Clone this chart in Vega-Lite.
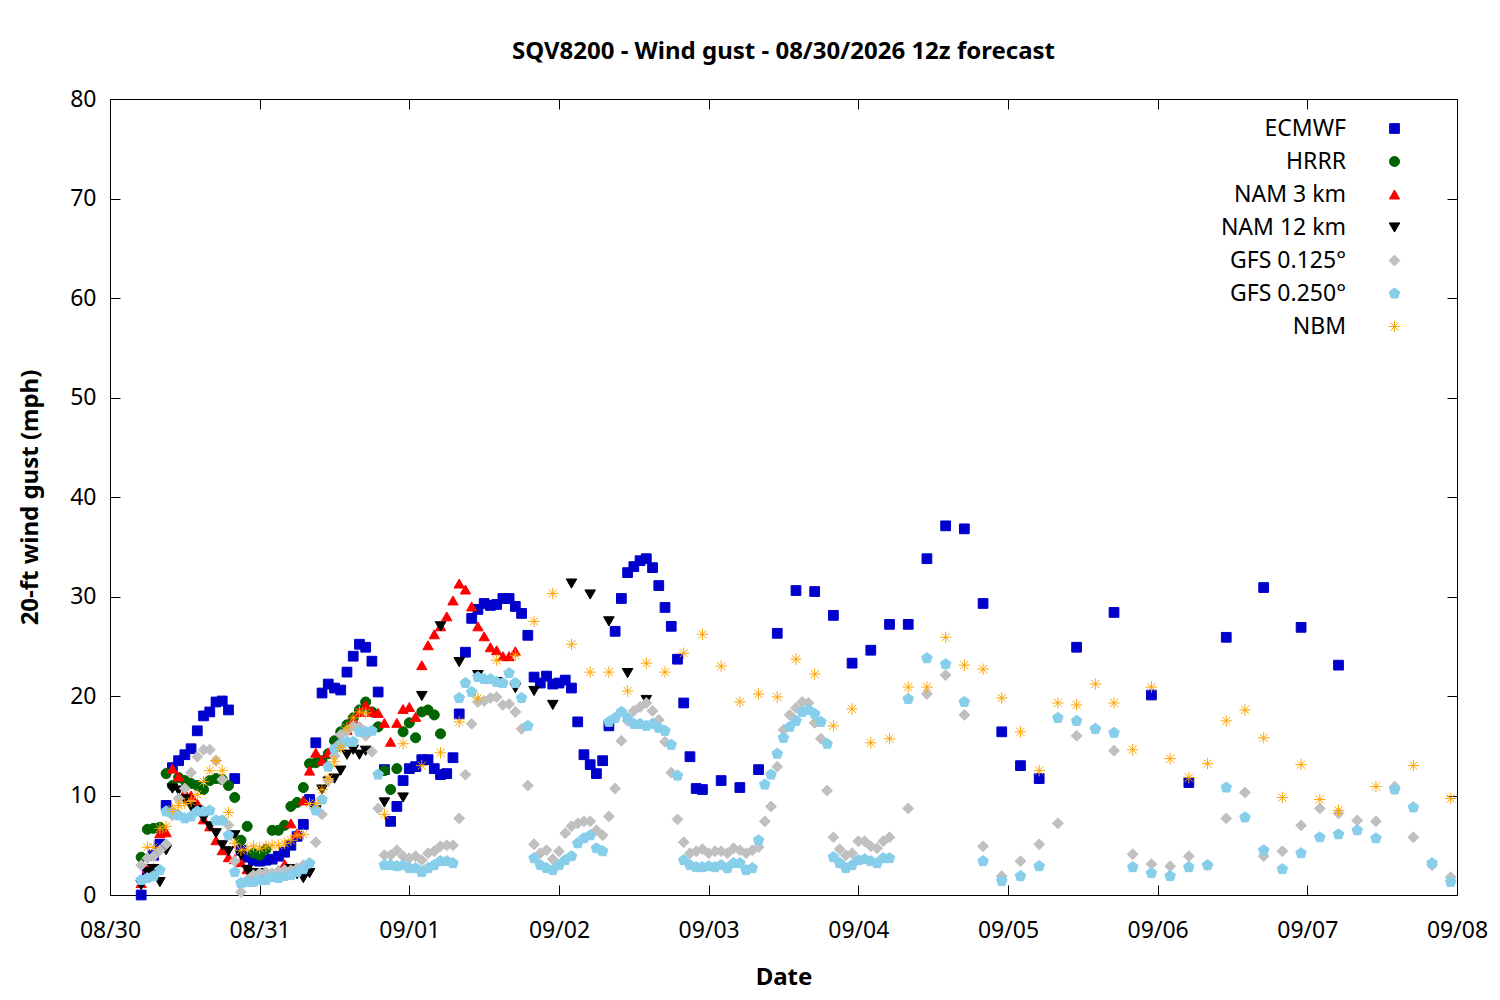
{
  "$schema": "https://vega.github.io/schema/vega-lite/v6.json",
  "width": 1347,
  "height": 796,
  "autosize": {"type": "none"},
  "padding": {"left": 110, "top": 99, "right": 43, "bottom": 105},
  "background": "white",
  "title": {
    "text": "SQV8200 - Wind gust - 08/30/2026 12z forecast",
    "fontSize": 24,
    "fontWeight": "bold",
    "color": "black",
    "anchor": "middle",
    "offset": 24
  },
  "datasets": {
    "gust": [
      {"m":"ECMWF","h":5,"v":0},{"m":"ECMWF","h":6,"v":2.5},{"m":"ECMWF","h":7,"v":4},{"m":"ECMWF","h":8,"v":5.1},{"m":"ECMWF","h":9,"v":9},{"m":"ECMWF","h":10,"v":12.8},{"m":"ECMWF","h":11,"v":13.5},{"m":"ECMWF","h":12,"v":14.1},{"m":"ECMWF","h":13,"v":14.7},{"m":"ECMWF","h":14,"v":16.5},{"m":"ECMWF","h":15,"v":18},{"m":"ECMWF","h":16,"v":18.4},{"m":"ECMWF","h":17,"v":19.4},{"m":"ECMWF","h":18,"v":19.5},{"m":"ECMWF","h":19,"v":18.6},{"m":"ECMWF","h":20,"v":11.7},{"m":"ECMWF","h":21,"v":4.5},{"m":"ECMWF","h":22,"v":3.8},{"m":"ECMWF","h":23,"v":3.5},{"m":"ECMWF","h":24,"v":3.4},{"m":"ECMWF","h":25,"v":3.5},{"m":"ECMWF","h":26,"v":3.6},{"m":"ECMWF","h":27,"v":3.9},{"m":"ECMWF","h":28,"v":4.3},{"m":"ECMWF","h":29,"v":5},{"m":"ECMWF","h":30,"v":5.9},{"m":"ECMWF","h":31,"v":7.1},{"m":"ECMWF","h":32,"v":9.6},{"m":"ECMWF","h":33,"v":15.3},{"m":"ECMWF","h":34,"v":20.3},{"m":"ECMWF","h":35,"v":21.2},{"m":"ECMWF","h":36,"v":20.8},{"m":"ECMWF","h":37,"v":20.6},{"m":"ECMWF","h":38,"v":22.4},{"m":"ECMWF","h":39,"v":24},{"m":"ECMWF","h":40,"v":25.2},{"m":"ECMWF","h":41,"v":24.9},{"m":"ECMWF","h":42,"v":23.5},{"m":"ECMWF","h":43,"v":20.4},{"m":"ECMWF","h":44,"v":12.6},{"m":"ECMWF","h":45,"v":7.4},{"m":"ECMWF","h":46,"v":8.9},{"m":"ECMWF","h":47,"v":11.5},{"m":"ECMWF","h":48,"v":12.7},{"m":"ECMWF","h":49,"v":12.9},{"m":"ECMWF","h":50,"v":13.6},{"m":"ECMWF","h":51,"v":13.6},{"m":"ECMWF","h":52,"v":12.7},{"m":"ECMWF","h":53,"v":12.1},{"m":"ECMWF","h":54,"v":12.2},{"m":"ECMWF","h":55,"v":13.8},{"m":"ECMWF","h":56,"v":18.2},{"m":"ECMWF","h":57,"v":24.4},{"m":"ECMWF","h":58,"v":27.8},{"m":"ECMWF","h":59,"v":28.7},{"m":"ECMWF","h":60,"v":29.3},{"m":"ECMWF","h":61,"v":29.1},{"m":"ECMWF","h":62,"v":29.2},{"m":"ECMWF","h":63,"v":29.8},{"m":"ECMWF","h":64,"v":29.8},{"m":"ECMWF","h":65,"v":29},{"m":"ECMWF","h":66,"v":28.3},{"m":"ECMWF","h":67,"v":26.1},{"m":"ECMWF","h":68,"v":21.9},{"m":"ECMWF","h":69,"v":21.3},{"m":"ECMWF","h":70,"v":22},{"m":"ECMWF","h":71,"v":21.2},{"m":"ECMWF","h":72,"v":21.3},{"m":"ECMWF","h":73,"v":21.6},{"m":"ECMWF","h":74,"v":20.8},{"m":"ECMWF","h":75,"v":17.4},{"m":"ECMWF","h":76,"v":14.1},{"m":"ECMWF","h":77,"v":13.1},{"m":"ECMWF","h":78,"v":12.2},{"m":"ECMWF","h":79,"v":13.5},{"m":"ECMWF","h":80,"v":17},{"m":"ECMWF","h":81,"v":26.5},{"m":"ECMWF","h":82,"v":29.8},{"m":"ECMWF","h":83,"v":32.4},{"m":"ECMWF","h":84,"v":33},{"m":"ECMWF","h":85,"v":33.6},{"m":"ECMWF","h":86,"v":33.8},{"m":"ECMWF","h":87,"v":32.9},{"m":"ECMWF","h":88,"v":31.1},{"m":"ECMWF","h":89,"v":28.9},{"m":"ECMWF","h":90,"v":27},{"m":"ECMWF","h":91,"v":23.7},{"m":"ECMWF","h":92,"v":19.3},{"m":"ECMWF","h":93,"v":13.9},{"m":"ECMWF","h":94,"v":10.7},{"m":"ECMWF","h":95,"v":10.6},{"m":"ECMWF","h":98,"v":11.5},{"m":"ECMWF","h":101,"v":10.8},{"m":"ECMWF","h":104,"v":12.6},{"m":"ECMWF","h":107,"v":26.3},{"m":"ECMWF","h":110,"v":30.6},{"m":"ECMWF","h":113,"v":30.5},{"m":"ECMWF","h":116,"v":28.1},{"m":"ECMWF","h":119,"v":23.3},{"m":"ECMWF","h":122,"v":24.6},{"m":"ECMWF","h":125,"v":27.2},{"m":"ECMWF","h":128,"v":27.2},{"m":"ECMWF","h":131,"v":33.8},{"m":"ECMWF","h":134,"v":37.1},{"m":"ECMWF","h":137,"v":36.8},{"m":"ECMWF","h":140,"v":29.3},{"m":"ECMWF","h":143,"v":16.4},{"m":"ECMWF","h":146,"v":13},{"m":"ECMWF","h":149,"v":11.7},{"m":"ECMWF","h":155,"v":24.9},{"m":"ECMWF","h":161,"v":28.4},{"m":"ECMWF","h":167,"v":20.1},{"m":"ECMWF","h":173,"v":11.3},{"m":"ECMWF","h":179,"v":25.9},{"m":"ECMWF","h":185,"v":30.9},{"m":"ECMWF","h":191,"v":26.9},{"m":"ECMWF","h":197,"v":23.1},
      {"m":"HRRR","h":5,"v":3.8},{"m":"HRRR","h":6,"v":6.6},{"m":"HRRR","h":7,"v":6.7},{"m":"HRRR","h":8,"v":6.8},{"m":"HRRR","h":9,"v":12.2},{"m":"HRRR","h":10,"v":11},{"m":"HRRR","h":11,"v":11.8},{"m":"HRRR","h":12,"v":11.5},{"m":"HRRR","h":13,"v":11.2},{"m":"HRRR","h":14,"v":11},{"m":"HRRR","h":15,"v":10.6},{"m":"HRRR","h":16,"v":11.5},{"m":"HRRR","h":17,"v":11.7},{"m":"HRRR","h":18,"v":11.6},{"m":"HRRR","h":19,"v":11},{"m":"HRRR","h":20,"v":9.8},{"m":"HRRR","h":21,"v":5.5},{"m":"HRRR","h":22,"v":6.9},{"m":"HRRR","h":23,"v":4.2},{"m":"HRRR","h":24,"v":4},{"m":"HRRR","h":25,"v":4.6},{"m":"HRRR","h":26,"v":6.5},{"m":"HRRR","h":27,"v":6.5},{"m":"HRRR","h":28,"v":7},{"m":"HRRR","h":29,"v":8.9},{"m":"HRRR","h":30,"v":9.3},{"m":"HRRR","h":31,"v":10.8},{"m":"HRRR","h":32,"v":13.2},{"m":"HRRR","h":33,"v":13.3},{"m":"HRRR","h":34,"v":13.5},{"m":"HRRR","h":35,"v":14.2},{"m":"HRRR","h":36,"v":15.5},{"m":"HRRR","h":37,"v":16.4},{"m":"HRRR","h":38,"v":17.1},{"m":"HRRR","h":39,"v":17.8},{"m":"HRRR","h":40,"v":18.6},{"m":"HRRR","h":41,"v":19.4},{"m":"HRRR","h":42,"v":18.4},{"m":"HRRR","h":43,"v":16.9},{"m":"HRRR","h":44,"v":12.5},{"m":"HRRR","h":45,"v":10.6},{"m":"HRRR","h":46,"v":12.7},{"m":"HRRR","h":47,"v":16.4},{"m":"HRRR","h":48,"v":17.3},{"m":"HRRR","h":49,"v":15.8},{"m":"HRRR","h":50,"v":18.4},{"m":"HRRR","h":51,"v":18.6},{"m":"HRRR","h":52,"v":18.1},{"m":"HRRR","h":53,"v":16.2},
      {"m":"NAM 3 km","h":5,"v":1.2},{"m":"NAM 3 km","h":6,"v":2.7},{"m":"NAM 3 km","h":7,"v":2.7},{"m":"NAM 3 km","h":8,"v":6.2},{"m":"NAM 3 km","h":9,"v":6.3},{"m":"NAM 3 km","h":10,"v":12.7},{"m":"NAM 3 km","h":11,"v":11.9},{"m":"NAM 3 km","h":12,"v":10.3},{"m":"NAM 3 km","h":13,"v":10},{"m":"NAM 3 km","h":14,"v":9.2},{"m":"NAM 3 km","h":15,"v":7.6},{"m":"NAM 3 km","h":16,"v":6.9},{"m":"NAM 3 km","h":17,"v":5.5},{"m":"NAM 3 km","h":18,"v":4.5},{"m":"NAM 3 km","h":19,"v":3.8},{"m":"NAM 3 km","h":20,"v":3.6},{"m":"NAM 3 km","h":21,"v":3.3},{"m":"NAM 3 km","h":22,"v":2.6},{"m":"NAM 3 km","h":23,"v":2.3},{"m":"NAM 3 km","h":24,"v":1.9},{"m":"NAM 3 km","h":25,"v":1.8},{"m":"NAM 3 km","h":26,"v":2.2},{"m":"NAM 3 km","h":27,"v":2.5},{"m":"NAM 3 km","h":28,"v":3.1},{"m":"NAM 3 km","h":29,"v":7.2},{"m":"NAM 3 km","h":30,"v":6.2},{"m":"NAM 3 km","h":31,"v":9.5},{"m":"NAM 3 km","h":32,"v":12.5},{"m":"NAM 3 km","h":33,"v":14.3},{"m":"NAM 3 km","h":34,"v":13.5},{"m":"NAM 3 km","h":35,"v":14.3},{"m":"NAM 3 km","h":36,"v":14.9},{"m":"NAM 3 km","h":37,"v":15.6},{"m":"NAM 3 km","h":38,"v":16.6},{"m":"NAM 3 km","h":39,"v":17.6},{"m":"NAM 3 km","h":40,"v":18.4},{"m":"NAM 3 km","h":41,"v":19.1},{"m":"NAM 3 km","h":42,"v":18.4},{"m":"NAM 3 km","h":43,"v":18.3},{"m":"NAM 3 km","h":44,"v":17.3},{"m":"NAM 3 km","h":45,"v":15.4},{"m":"NAM 3 km","h":46,"v":17.3},{"m":"NAM 3 km","h":47,"v":18.7},{"m":"NAM 3 km","h":48,"v":18.9},{"m":"NAM 3 km","h":49,"v":17.9},{"m":"NAM 3 km","h":50,"v":23.1},{"m":"NAM 3 km","h":51,"v":25.1},{"m":"NAM 3 km","h":52,"v":26.2},{"m":"NAM 3 km","h":53,"v":27},{"m":"NAM 3 km","h":54,"v":28},{"m":"NAM 3 km","h":55,"v":29.6},{"m":"NAM 3 km","h":56,"v":31.3},{"m":"NAM 3 km","h":57,"v":30.7},{"m":"NAM 3 km","h":58,"v":29},{"m":"NAM 3 km","h":59,"v":27},{"m":"NAM 3 km","h":60,"v":26},{"m":"NAM 3 km","h":61,"v":24.9},{"m":"NAM 3 km","h":62,"v":24.6},{"m":"NAM 3 km","h":63,"v":24},{"m":"NAM 3 km","h":64,"v":24},{"m":"NAM 3 km","h":65,"v":24.5},
      {"m":"NAM 12 km","h":5,"v":1},{"m":"NAM 12 km","h":6,"v":2.3},{"m":"NAM 12 km","h":7,"v":2.6},{"m":"NAM 12 km","h":8,"v":1.3},{"m":"NAM 12 km","h":9,"v":4.5},{"m":"NAM 12 km","h":10,"v":10.7},{"m":"NAM 12 km","h":11,"v":10.5},{"m":"NAM 12 km","h":12,"v":9.6},{"m":"NAM 12 km","h":13,"v":8.9},{"m":"NAM 12 km","h":14,"v":8.5},{"m":"NAM 12 km","h":15,"v":7.7},{"m":"NAM 12 km","h":16,"v":6.9},{"m":"NAM 12 km","h":17,"v":6.2},{"m":"NAM 12 km","h":18,"v":5},{"m":"NAM 12 km","h":19,"v":4.4},{"m":"NAM 12 km","h":20,"v":6},{"m":"NAM 12 km","h":21,"v":4},{"m":"NAM 12 km","h":22,"v":2.5},{"m":"NAM 12 km","h":23,"v":2.2},{"m":"NAM 12 km","h":24,"v":2.2},{"m":"NAM 12 km","h":25,"v":1.9},{"m":"NAM 12 km","h":26,"v":1.8},{"m":"NAM 12 km","h":27,"v":2},{"m":"NAM 12 km","h":28,"v":2.3},{"m":"NAM 12 km","h":29,"v":2.6},{"m":"NAM 12 km","h":30,"v":2.1},{"m":"NAM 12 km","h":31,"v":1.7},{"m":"NAM 12 km","h":32,"v":2.2},{"m":"NAM 12 km","h":33,"v":8.5},{"m":"NAM 12 km","h":34,"v":10.6},{"m":"NAM 12 km","h":35,"v":11.4},{"m":"NAM 12 km","h":36,"v":11.7},{"m":"NAM 12 km","h":37,"v":12.5},{"m":"NAM 12 km","h":38,"v":14.1},{"m":"NAM 12 km","h":39,"v":14.6},{"m":"NAM 12 km","h":40,"v":14.1},{"m":"NAM 12 km","h":41,"v":14.5},{"m":"NAM 12 km","h":44,"v":9.3},{"m":"NAM 12 km","h":47,"v":9.8},{"m":"NAM 12 km","h":50,"v":20},{"m":"NAM 12 km","h":53,"v":27},{"m":"NAM 12 km","h":56,"v":23.4},{"m":"NAM 12 km","h":59,"v":22.1},{"m":"NAM 12 km","h":62,"v":21.4},{"m":"NAM 12 km","h":65,"v":20.8},{"m":"NAM 12 km","h":68,"v":20.5},{"m":"NAM 12 km","h":71,"v":19.1},{"m":"NAM 12 km","h":74,"v":31.3},{"m":"NAM 12 km","h":77,"v":30.2},{"m":"NAM 12 km","h":80,"v":27.5},{"m":"NAM 12 km","h":83,"v":22.3},{"m":"NAM 12 km","h":86,"v":19.6},
      {"m":"GFS 0.125°","h":5,"v":3},{"m":"GFS 0.125°","h":6,"v":3.7},{"m":"GFS 0.125°","h":7,"v":3.9},{"m":"GFS 0.125°","h":8,"v":4.5},{"m":"GFS 0.125°","h":9,"v":5.1},{"m":"GFS 0.125°","h":10,"v":8},{"m":"GFS 0.125°","h":11,"v":9.7},{"m":"GFS 0.125°","h":12,"v":10.7},{"m":"GFS 0.125°","h":13,"v":12.3},{"m":"GFS 0.125°","h":14,"v":13.9},{"m":"GFS 0.125°","h":15,"v":14.6},{"m":"GFS 0.125°","h":16,"v":14.6},{"m":"GFS 0.125°","h":17,"v":13.5},{"m":"GFS 0.125°","h":18,"v":11.6},{"m":"GFS 0.125°","h":19,"v":7},{"m":"GFS 0.125°","h":20,"v":3.4},{"m":"GFS 0.125°","h":21,"v":0.3},{"m":"GFS 0.125°","h":22,"v":1.5},{"m":"GFS 0.125°","h":23,"v":2},{"m":"GFS 0.125°","h":24,"v":2.2},{"m":"GFS 0.125°","h":25,"v":2.3},{"m":"GFS 0.125°","h":26,"v":2.2},{"m":"GFS 0.125°","h":27,"v":2.4},{"m":"GFS 0.125°","h":28,"v":2.5},{"m":"GFS 0.125°","h":29,"v":2.5},{"m":"GFS 0.125°","h":30,"v":2.7},{"m":"GFS 0.125°","h":31,"v":3},{"m":"GFS 0.125°","h":32,"v":3.2},{"m":"GFS 0.125°","h":33,"v":5.3},{"m":"GFS 0.125°","h":34,"v":8.1},{"m":"GFS 0.125°","h":35,"v":11.5},{"m":"GFS 0.125°","h":36,"v":14},{"m":"GFS 0.125°","h":37,"v":16.1},{"m":"GFS 0.125°","h":38,"v":16.5},{"m":"GFS 0.125°","h":39,"v":17},{"m":"GFS 0.125°","h":40,"v":16.9},{"m":"GFS 0.125°","h":41,"v":16},{"m":"GFS 0.125°","h":42,"v":14.4},{"m":"GFS 0.125°","h":43,"v":8.7},{"m":"GFS 0.125°","h":44,"v":4},{"m":"GFS 0.125°","h":45,"v":4},{"m":"GFS 0.125°","h":46,"v":4.5},{"m":"GFS 0.125°","h":47,"v":3.9},{"m":"GFS 0.125°","h":48,"v":3.7},{"m":"GFS 0.125°","h":49,"v":3.9},{"m":"GFS 0.125°","h":50,"v":3.5},{"m":"GFS 0.125°","h":51,"v":4.2},{"m":"GFS 0.125°","h":52,"v":4.4},{"m":"GFS 0.125°","h":53,"v":4.9},{"m":"GFS 0.125°","h":54,"v":5},{"m":"GFS 0.125°","h":55,"v":5},{"m":"GFS 0.125°","h":56,"v":7.7},{"m":"GFS 0.125°","h":57,"v":12.1},{"m":"GFS 0.125°","h":58,"v":17.2},{"m":"GFS 0.125°","h":59,"v":19.4},{"m":"GFS 0.125°","h":60,"v":19.5},{"m":"GFS 0.125°","h":61,"v":19.8},{"m":"GFS 0.125°","h":62,"v":19.9},{"m":"GFS 0.125°","h":63,"v":19.1},{"m":"GFS 0.125°","h":64,"v":19.2},{"m":"GFS 0.125°","h":65,"v":18.4},{"m":"GFS 0.125°","h":66,"v":16.7},{"m":"GFS 0.125°","h":67,"v":11},{"m":"GFS 0.125°","h":68,"v":5.1},{"m":"GFS 0.125°","h":69,"v":4.2},{"m":"GFS 0.125°","h":70,"v":4.5},{"m":"GFS 0.125°","h":71,"v":3.6},{"m":"GFS 0.125°","h":72,"v":4.4},{"m":"GFS 0.125°","h":73,"v":6.2},{"m":"GFS 0.125°","h":74,"v":6.9},{"m":"GFS 0.125°","h":75,"v":7.2},{"m":"GFS 0.125°","h":76,"v":7.4},{"m":"GFS 0.125°","h":77,"v":7.4},{"m":"GFS 0.125°","h":78,"v":6.5},{"m":"GFS 0.125°","h":79,"v":6},{"m":"GFS 0.125°","h":80,"v":7.9},{"m":"GFS 0.125°","h":81,"v":10.7},{"m":"GFS 0.125°","h":82,"v":15.5},{"m":"GFS 0.125°","h":83,"v":17.5},{"m":"GFS 0.125°","h":84,"v":18.5},{"m":"GFS 0.125°","h":85,"v":18.9},{"m":"GFS 0.125°","h":86,"v":19.3},{"m":"GFS 0.125°","h":87,"v":18.5},{"m":"GFS 0.125°","h":88,"v":17.6},{"m":"GFS 0.125°","h":89,"v":15.4},{"m":"GFS 0.125°","h":90,"v":12.3},{"m":"GFS 0.125°","h":91,"v":7.6},{"m":"GFS 0.125°","h":92,"v":5.3},{"m":"GFS 0.125°","h":93,"v":4.2},{"m":"GFS 0.125°","h":94,"v":4.4},{"m":"GFS 0.125°","h":95,"v":4.6},{"m":"GFS 0.125°","h":96,"v":4.2},{"m":"GFS 0.125°","h":97,"v":4.4},{"m":"GFS 0.125°","h":98,"v":4.4},{"m":"GFS 0.125°","h":99,"v":4.2},{"m":"GFS 0.125°","h":100,"v":4.7},{"m":"GFS 0.125°","h":101,"v":4.5},{"m":"GFS 0.125°","h":102,"v":4.2},{"m":"GFS 0.125°","h":103,"v":4.5},{"m":"GFS 0.125°","h":104,"v":4.8},{"m":"GFS 0.125°","h":105,"v":7.4},{"m":"GFS 0.125°","h":106,"v":8.9},{"m":"GFS 0.125°","h":107,"v":12.9},{"m":"GFS 0.125°","h":108,"v":16.6},{"m":"GFS 0.125°","h":109,"v":18.1},{"m":"GFS 0.125°","h":110,"v":18.8},{"m":"GFS 0.125°","h":111,"v":19.4},{"m":"GFS 0.125°","h":112,"v":19.3},{"m":"GFS 0.125°","h":113,"v":17.3},{"m":"GFS 0.125°","h":114,"v":15.7},{"m":"GFS 0.125°","h":115,"v":10.5},{"m":"GFS 0.125°","h":116,"v":5.8},{"m":"GFS 0.125°","h":117,"v":4.6},{"m":"GFS 0.125°","h":118,"v":4},{"m":"GFS 0.125°","h":119,"v":4.2},{"m":"GFS 0.125°","h":120,"v":5.4},{"m":"GFS 0.125°","h":121,"v":5.4},{"m":"GFS 0.125°","h":122,"v":4.9},{"m":"GFS 0.125°","h":123,"v":4.7},{"m":"GFS 0.125°","h":124,"v":5.4},{"m":"GFS 0.125°","h":125,"v":5.8},{"m":"GFS 0.125°","h":128,"v":8.7},{"m":"GFS 0.125°","h":131,"v":20.2},{"m":"GFS 0.125°","h":134,"v":22.1},{"m":"GFS 0.125°","h":137,"v":18.1},{"m":"GFS 0.125°","h":140,"v":4.9},{"m":"GFS 0.125°","h":143,"v":1.9},{"m":"GFS 0.125°","h":146,"v":3.4},{"m":"GFS 0.125°","h":149,"v":5.1},{"m":"GFS 0.125°","h":152,"v":7.2},{"m":"GFS 0.125°","h":155,"v":16},{"m":"GFS 0.125°","h":158,"v":16.7},{"m":"GFS 0.125°","h":161,"v":14.5},{"m":"GFS 0.125°","h":164,"v":4.1},{"m":"GFS 0.125°","h":167,"v":3.1},{"m":"GFS 0.125°","h":170,"v":2.9},{"m":"GFS 0.125°","h":173,"v":3.9},{"m":"GFS 0.125°","h":176,"v":3},{"m":"GFS 0.125°","h":179,"v":7.7},{"m":"GFS 0.125°","h":182,"v":10.3},{"m":"GFS 0.125°","h":185,"v":3.9},{"m":"GFS 0.125°","h":188,"v":4.4},{"m":"GFS 0.125°","h":191,"v":7},{"m":"GFS 0.125°","h":194,"v":8.7},{"m":"GFS 0.125°","h":197,"v":8.2},{"m":"GFS 0.125°","h":200,"v":7.5},{"m":"GFS 0.125°","h":203,"v":7.4},{"m":"GFS 0.125°","h":206,"v":10.9},{"m":"GFS 0.125°","h":209,"v":5.8},{"m":"GFS 0.125°","h":212,"v":3},{"m":"GFS 0.125°","h":215,"v":1.8},
      {"m":"GFS 0.250°","h":5,"v":1.5},{"m":"GFS 0.250°","h":6,"v":1.7},{"m":"GFS 0.250°","h":7,"v":1.9},{"m":"GFS 0.250°","h":8,"v":2.5},{"m":"GFS 0.250°","h":9,"v":8.4},{"m":"GFS 0.250°","h":10,"v":8.3},{"m":"GFS 0.250°","h":11,"v":8},{"m":"GFS 0.250°","h":12,"v":7.7},{"m":"GFS 0.250°","h":13,"v":7.9},{"m":"GFS 0.250°","h":14,"v":8.4},{"m":"GFS 0.250°","h":15,"v":8.4},{"m":"GFS 0.250°","h":16,"v":8.5},{"m":"GFS 0.250°","h":17,"v":7.5},{"m":"GFS 0.250°","h":18,"v":7.5},{"m":"GFS 0.250°","h":19,"v":6},{"m":"GFS 0.250°","h":20,"v":2.3},{"m":"GFS 0.250°","h":21,"v":1.2},{"m":"GFS 0.250°","h":22,"v":1.3},{"m":"GFS 0.250°","h":23,"v":1.3},{"m":"GFS 0.250°","h":24,"v":1.5},{"m":"GFS 0.250°","h":25,"v":1.5},{"m":"GFS 0.250°","h":26,"v":1.8},{"m":"GFS 0.250°","h":27,"v":1.7},{"m":"GFS 0.250°","h":28,"v":1.9},{"m":"GFS 0.250°","h":29,"v":2},{"m":"GFS 0.250°","h":30,"v":2.3},{"m":"GFS 0.250°","h":31,"v":2.6},{"m":"GFS 0.250°","h":32,"v":3.2},{"m":"GFS 0.250°","h":33,"v":8.5},{"m":"GFS 0.250°","h":34,"v":9.6},{"m":"GFS 0.250°","h":35,"v":12.9},{"m":"GFS 0.250°","h":36,"v":14.7},{"m":"GFS 0.250°","h":37,"v":15.2},{"m":"GFS 0.250°","h":38,"v":15.4},{"m":"GFS 0.250°","h":39,"v":15.4},{"m":"GFS 0.250°","h":40,"v":16.4},{"m":"GFS 0.250°","h":41,"v":16.4},{"m":"GFS 0.250°","h":42,"v":16.5},{"m":"GFS 0.250°","h":43,"v":12.1},{"m":"GFS 0.250°","h":44,"v":3},{"m":"GFS 0.250°","h":45,"v":3},{"m":"GFS 0.250°","h":46,"v":2.9},{"m":"GFS 0.250°","h":47,"v":3},{"m":"GFS 0.250°","h":48,"v":2.7},{"m":"GFS 0.250°","h":49,"v":2.7},{"m":"GFS 0.250°","h":50,"v":2.3},{"m":"GFS 0.250°","h":51,"v":2.7},{"m":"GFS 0.250°","h":52,"v":3},{"m":"GFS 0.250°","h":53,"v":3.4},{"m":"GFS 0.250°","h":54,"v":3.4},{"m":"GFS 0.250°","h":55,"v":3.2},{"m":"GFS 0.250°","h":56,"v":19.8},{"m":"GFS 0.250°","h":57,"v":21.3},{"m":"GFS 0.250°","h":58,"v":20.4},{"m":"GFS 0.250°","h":59,"v":21.9},{"m":"GFS 0.250°","h":60,"v":21.7},{"m":"GFS 0.250°","h":61,"v":21.7},{"m":"GFS 0.250°","h":62,"v":21.4},{"m":"GFS 0.250°","h":63,"v":21.3},{"m":"GFS 0.250°","h":64,"v":22.3},{"m":"GFS 0.250°","h":65,"v":21.3},{"m":"GFS 0.250°","h":66,"v":19.8},{"m":"GFS 0.250°","h":67,"v":17},{"m":"GFS 0.250°","h":68,"v":3.7},{"m":"GFS 0.250°","h":69,"v":3},{"m":"GFS 0.250°","h":70,"v":2.7},{"m":"GFS 0.250°","h":71,"v":2.5},{"m":"GFS 0.250°","h":72,"v":3},{"m":"GFS 0.250°","h":73,"v":3.5},{"m":"GFS 0.250°","h":74,"v":3.9},{"m":"GFS 0.250°","h":75,"v":5.2},{"m":"GFS 0.250°","h":76,"v":5.7},{"m":"GFS 0.250°","h":77,"v":6},{"m":"GFS 0.250°","h":78,"v":4.7},{"m":"GFS 0.250°","h":79,"v":4.4},{"m":"GFS 0.250°","h":80,"v":17.4},{"m":"GFS 0.250°","h":81,"v":17.8},{"m":"GFS 0.250°","h":82,"v":18.4},{"m":"GFS 0.250°","h":83,"v":17.8},{"m":"GFS 0.250°","h":84,"v":17.2},{"m":"GFS 0.250°","h":85,"v":17.2},{"m":"GFS 0.250°","h":86,"v":17},{"m":"GFS 0.250°","h":87,"v":17.2},{"m":"GFS 0.250°","h":88,"v":16.8},{"m":"GFS 0.250°","h":89,"v":16.5},{"m":"GFS 0.250°","h":90,"v":15.1},{"m":"GFS 0.250°","h":91,"v":12},{"m":"GFS 0.250°","h":92,"v":3.5},{"m":"GFS 0.250°","h":93,"v":3},{"m":"GFS 0.250°","h":94,"v":2.8},{"m":"GFS 0.250°","h":95,"v":2.8},{"m":"GFS 0.250°","h":96,"v":2.9},{"m":"GFS 0.250°","h":97,"v":2.8},{"m":"GFS 0.250°","h":98,"v":3},{"m":"GFS 0.250°","h":99,"v":2.7},{"m":"GFS 0.250°","h":100,"v":3.2},{"m":"GFS 0.250°","h":101,"v":3.2},{"m":"GFS 0.250°","h":102,"v":2.5},{"m":"GFS 0.250°","h":103,"v":2.7},{"m":"GFS 0.250°","h":104,"v":5.5},{"m":"GFS 0.250°","h":105,"v":11.1},{"m":"GFS 0.250°","h":106,"v":12.1},{"m":"GFS 0.250°","h":107,"v":14.2},{"m":"GFS 0.250°","h":108,"v":15.8},{"m":"GFS 0.250°","h":109,"v":16.9},{"m":"GFS 0.250°","h":110,"v":17.5},{"m":"GFS 0.250°","h":111,"v":18.4},{"m":"GFS 0.250°","h":112,"v":18.6},{"m":"GFS 0.250°","h":113,"v":18.2},{"m":"GFS 0.250°","h":114,"v":17.4},{"m":"GFS 0.250°","h":115,"v":15.2},{"m":"GFS 0.250°","h":116,"v":3.8},{"m":"GFS 0.250°","h":117,"v":3.2},{"m":"GFS 0.250°","h":118,"v":2.7},{"m":"GFS 0.250°","h":119,"v":3},{"m":"GFS 0.250°","h":120,"v":3.5},{"m":"GFS 0.250°","h":121,"v":3.6},{"m":"GFS 0.250°","h":122,"v":3.4},{"m":"GFS 0.250°","h":123,"v":3.2},{"m":"GFS 0.250°","h":124,"v":3.7},{"m":"GFS 0.250°","h":125,"v":3.7},{"m":"GFS 0.250°","h":128,"v":19.7},{"m":"GFS 0.250°","h":131,"v":23.8},{"m":"GFS 0.250°","h":134,"v":23.2},{"m":"GFS 0.250°","h":137,"v":19.4},{"m":"GFS 0.250°","h":140,"v":3.4},{"m":"GFS 0.250°","h":143,"v":1.4},{"m":"GFS 0.250°","h":146,"v":1.9},{"m":"GFS 0.250°","h":149,"v":2.9},{"m":"GFS 0.250°","h":152,"v":17.8},{"m":"GFS 0.250°","h":155,"v":17.5},{"m":"GFS 0.250°","h":158,"v":16.7},{"m":"GFS 0.250°","h":161,"v":16.3},{"m":"GFS 0.250°","h":164,"v":2.8},{"m":"GFS 0.250°","h":167,"v":2.2},{"m":"GFS 0.250°","h":170,"v":1.9},{"m":"GFS 0.250°","h":173,"v":2.8},{"m":"GFS 0.250°","h":176,"v":3},{"m":"GFS 0.250°","h":179,"v":10.8},{"m":"GFS 0.250°","h":182,"v":7.8},{"m":"GFS 0.250°","h":185,"v":4.5},{"m":"GFS 0.250°","h":188,"v":2.6},{"m":"GFS 0.250°","h":191,"v":4.2},{"m":"GFS 0.250°","h":194,"v":5.8},{"m":"GFS 0.250°","h":197,"v":6.1},{"m":"GFS 0.250°","h":200,"v":6.5},{"m":"GFS 0.250°","h":203,"v":5.7},{"m":"GFS 0.250°","h":206,"v":10.6},{"m":"GFS 0.250°","h":209,"v":8.8},{"m":"GFS 0.250°","h":212,"v":3.2},{"m":"GFS 0.250°","h":215,"v":1.3},
      {"m":"NBM","h":6,"v":4.8},{"m":"NBM","h":7,"v":4.8},{"m":"NBM","h":8,"v":6.7},{"m":"NBM","h":9,"v":6.9},{"m":"NBM","h":10,"v":8.6},{"m":"NBM","h":11,"v":9},{"m":"NBM","h":12,"v":9.2},{"m":"NBM","h":13,"v":9.4},{"m":"NBM","h":14,"v":10.1},{"m":"NBM","h":15,"v":11.4},{"m":"NBM","h":16,"v":12.5},{"m":"NBM","h":17,"v":13.5},{"m":"NBM","h":18,"v":12.5},{"m":"NBM","h":19,"v":8.3},{"m":"NBM","h":20,"v":5.2},{"m":"NBM","h":21,"v":4.5},{"m":"NBM","h":22,"v":4.6},{"m":"NBM","h":23,"v":4.9},{"m":"NBM","h":24,"v":4.7},{"m":"NBM","h":25,"v":4.9},{"m":"NBM","h":26,"v":5},{"m":"NBM","h":27,"v":5},{"m":"NBM","h":28,"v":5.2},{"m":"NBM","h":29,"v":5.5},{"m":"NBM","h":30,"v":6},{"m":"NBM","h":31,"v":6.1},{"m":"NBM","h":32,"v":9.2},{"m":"NBM","h":33,"v":9.2},{"m":"NBM","h":34,"v":10.6},{"m":"NBM","h":35,"v":11.7},{"m":"NBM","h":36,"v":13.4},{"m":"NBM","h":37,"v":14.8},{"m":"NBM","h":38,"v":16.8},{"m":"NBM","h":39,"v":17.8},{"m":"NBM","h":40,"v":18.4},{"m":"NBM","h":41,"v":18.3},{"m":"NBM","h":44,"v":8.1},{"m":"NBM","h":47,"v":15.2},{"m":"NBM","h":50,"v":13},{"m":"NBM","h":53,"v":14.3},{"m":"NBM","h":56,"v":17.4},{"m":"NBM","h":59,"v":19.8},{"m":"NBM","h":62,"v":23.6},{"m":"NBM","h":65,"v":24.1},{"m":"NBM","h":68,"v":27.5},{"m":"NBM","h":71,"v":30.3},{"m":"NBM","h":74,"v":25.2},{"m":"NBM","h":77,"v":22.4},{"m":"NBM","h":80,"v":22.4},{"m":"NBM","h":83,"v":20.5},{"m":"NBM","h":86,"v":23.3},{"m":"NBM","h":89,"v":22.4},{"m":"NBM","h":92,"v":24.3},{"m":"NBM","h":95,"v":26.2},{"m":"NBM","h":98,"v":23},{"m":"NBM","h":101,"v":19.4},{"m":"NBM","h":104,"v":20.2},{"m":"NBM","h":107,"v":19.9},{"m":"NBM","h":110,"v":23.7},{"m":"NBM","h":113,"v":22.2},{"m":"NBM","h":116,"v":17},{"m":"NBM","h":119,"v":18.7},{"m":"NBM","h":122,"v":15.3},{"m":"NBM","h":125,"v":15.7},{"m":"NBM","h":128,"v":20.9},{"m":"NBM","h":131,"v":20.9},{"m":"NBM","h":134,"v":25.9},{"m":"NBM","h":137,"v":23.1},{"m":"NBM","h":140,"v":22.7},{"m":"NBM","h":143,"v":19.8},{"m":"NBM","h":146,"v":16.4},{"m":"NBM","h":149,"v":12.5},{"m":"NBM","h":152,"v":19.3},{"m":"NBM","h":155,"v":19.1},{"m":"NBM","h":158,"v":21.2},{"m":"NBM","h":161,"v":19.3},{"m":"NBM","h":164,"v":14.6},{"m":"NBM","h":167,"v":20.9},{"m":"NBM","h":170,"v":13.7},{"m":"NBM","h":173,"v":11.8},{"m":"NBM","h":176,"v":13.2},{"m":"NBM","h":179,"v":17.5},{"m":"NBM","h":182,"v":18.6},{"m":"NBM","h":185,"v":15.8},{"m":"NBM","h":188,"v":9.8},{"m":"NBM","h":191,"v":13.1},{"m":"NBM","h":194,"v":9.6},{"m":"NBM","h":197,"v":8.5},{"m":"NBM","h":203,"v":10.9},{"m":"NBM","h":209,"v":13},{"m":"NBM","h":215,"v":9.7}
    ]
  },
  "layer": [
    {
      "data": {"name": "gust"},
      "mark": {"type": "point", "filled": true, "strokeWidth": 1, "opacity": 1},
      "encoding": {
        "x": {
          "field": "h",
          "type": "quantitative",
          "scale": {"domain": [0, 216], "nice": false, "zero": false},
          "axis": {
            "orient": "bottom",
            "values": [0, 24, 48, 72, 96, 120, 144, 168, 192, 216],
            "labelExpr": "['08/30','08/31','09/01','09/02','09/03','09/04','09/05','09/06','09/07','09/08'][round(datum.value / 24)]",
            "labelFlush": false,
            "labelPadding": 34,
            "title": "Date",
            "titlePadding": 23
          }
        },
        "y": {
          "field": "v",
          "type": "quantitative",
          "scale": {"domain": [0, 80], "nice": false},
          "axis": {
            "orient": "left",
            "values": [0, 10, 20, 30, 40, 50, 60, 70, 80],
            "title": "20-ft wind gust (mph)",
            "titlePadding": 27
          }
        },
        "color": {
          "field": "m",
          "type": "nominal",
          "scale": {
            "domain": ["ECMWF", "HRRR", "NAM 3 km", "NAM 12 km", "GFS 0.125°", "GFS 0.250°", "NBM"],
            "range": ["#0000cc", "#006400", "#ff0000", "#000000", "#c0c0c0", "#87ceeb", "#ffa500"]
          },
          "legend": {
            "title": null,
            "orient": "none",
            "legendX": 1273,
            "legendY": 18,
            "labelAlign": "right",
            "labelOffset": -60,
            "labelFontSize": 23,
            "labelColor": "black",
            "labelLimit": 400,
            "rowPadding": 9,
            "symbolStrokeWidth": 1
          }
        },
        "stroke": {
          "field": "m",
          "type": "nominal",
          "scale": {
            "domain": ["ECMWF", "HRRR", "NAM 3 km", "NAM 12 km", "GFS 0.125°", "GFS 0.250°", "NBM"],
            "range": ["#0000cc", "#006400", "#ff0000", "#000000", "#c0c0c0", "#87ceeb", "#ffa500"]
          }
        },
        "size": {
          "field": "m",
          "type": "ordinal",
          "scale": {
            "domain": ["ECMWF", "HRRR", "NAM 3 km", "NAM 12 km", "GFS 0.125°", "GFS 0.250°", "NBM"],
            "range": [95, 130, 125, 125, 110, 125, 165]
          }
        },
        "shape": {
          "field": "m",
          "type": "nominal",
          "scale": {
            "domain": ["ECMWF", "HRRR", "NAM 3 km", "NAM 12 km", "GFS 0.125°", "GFS 0.250°", "NBM"],
            "range": [
              "square",
              "circle",
              "triangle-up",
              "triangle-down",
              "diamond",
              "M0,-1L0.951,-0.309L0.588,0.809L-0.588,0.809L-0.951,-0.309Z",
              "M-1,0L1,0M0,-1L0,1M-0.707,-0.707L0.707,0.707M-0.707,0.707L0.707,-0.707"
            ]
          }
        }
      }
    },
    {
      "data": {"values": [{}]},
      "mark": {"type": "point", "opacity": 0},
      "encoding": {
        "x": {
          "datum": 0,
          "type": "quantitative",
          "axis": {"orient": "top", "values": [0, 24, 48, 72, 96, 120, 144, 168, 192, 216], "labels": false, "title": null}
        },
        "y": {
          "datum": 0,
          "type": "quantitative",
          "axis": {"orient": "right", "values": [0, 10, 20, 30, 40, 50, 60, 70, 80], "labels": false, "title": null}
        }
      }
    }
  ],
  "resolve": {"axis": {"x": "independent", "y": "independent"}},
  "config": {
    "font": "Noto Sans",
    "view": {"stroke": "black", "strokeWidth": 1},
    "axis": {
      "grid": false,
      "domain": false,
      "tickColor": "black",
      "tickWidth": 1,
      "tickSize": -10,
      "labelFontSize": 23,
      "labelColor": "black",
      "labelPadding": 24,
      "labelFont": "Noto Sans",
      "titleFont": "Noto Sans",
      "titleFontSize": 24,
      "titleFontWeight": "bold",
      "titleColor": "black"
    },
    "legend": {"labelFont": "Noto Sans"}
  }
}
